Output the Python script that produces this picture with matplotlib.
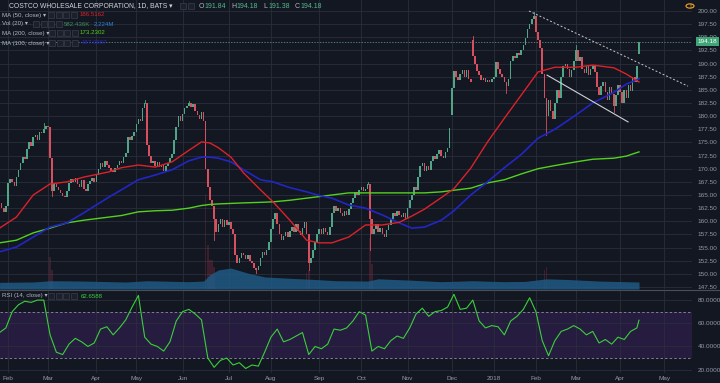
import numpy as np
import matplotlib
matplotlib.use("Agg")
import matplotlib.pyplot as plt
from matplotlib.patches import Rectangle, Circle

plt.rcParams['font.family'] = ['Liberation Sans', 'DejaVu Sans']

# ---------------- data ----------------
# daily closes, bar 0 = 26 Jan 2017 ... bar 304 = mid Apr 2018
closes = [
    163.5, 162.5, 161.8, 163.0,
    # Feb
    167.2, 168.0, 167.5, 166.8, 168.5, 169.8, 171.0, 172.2, 171.8, 173.8,
    175.0, 174.3, 176.0, 176.5, 175.5, 177.0, 176.8, 177.5, 178.2,
    # Mar
    178.0, 172.0, 165.8, 167.0, 166.5, 166.0, 165.3, 164.8, 164.6, 165.8,
    167.2, 168.0, 167.5, 168.3, 167.0, 166.5, 167.8, 166.2, 165.8, 167.0,
    167.6, 168.2, 167.5,
    # Apr
    168.8, 170.0, 171.0, 170.4, 171.5, 170.8, 170.2, 169.5, 169.3, 170.2,
    170.8, 171.5, 171.0, 172.3, 173.0, 176.0, 175.5, 176.3, 177.0,
    # May
    178.5, 179.5, 179.0, 181.5, 182.5, 174.5, 172.5, 171.0, 171.5, 170.5,
    171.2, 170.3, 170.8, 169.6, 170.5, 171.0, 172.0, 172.8, 175.5, 178.0,
    180.0, 179.0,
    # Jun
    180.5, 181.5, 182.0, 182.5, 181.8, 182.3, 181.0, 180.2, 179.5, 180.8,
    179.0, 170.0, 166.5, 164.0, 163.0, 160.5, 158.0, 159.5, 160.5, 159.0,
    160.2, 159.2,
    # Jul
    159.8, 158.5, 157.5, 153.5, 152.0, 153.0, 154.0, 153.5, 152.8, 153.6,
    152.5, 152.0, 151.2, 150.8, 151.5, 153.0, 154.2, 153.5, 154.5, 156.0,
    # Aug
    158.5, 160.5, 161.5, 159.5, 157.5, 156.5, 157.2, 158.0, 157.0, 158.2,
    159.0, 158.0, 159.5, 158.2, 157.3, 158.8, 159.8, 157.5, 152.0, 153.0,
    154.5, 156.0, 157.5,
    # Sep
    158.5, 157.5, 158.8, 158.0, 157.3, 159.0, 161.5, 163.0, 162.0, 162.5,
    161.5, 161.0, 162.0, 161.2, 162.3, 163.5, 164.5, 165.5, 165.0, 166.0,
    # Oct
    166.5, 165.8, 166.2, 167.0, 160.5, 157.5, 158.5, 159.5, 158.0, 158.8,
    157.5, 157.0, 158.3, 159.2, 160.5, 161.5, 161.0, 162.0, 161.2, 160.8,
    161.5, 160.5,
    # Nov
    162.5, 164.0, 165.0, 166.5, 166.0, 168.5, 170.5, 171.0, 169.5, 170.5,
    169.8, 171.5, 172.5, 171.8, 172.8, 173.5, 172.5, 172.0, 173.2, 174.0,
    177.7,
    # Dec
    185.4, 188.5, 187.5, 186.8, 188.0, 188.7, 187.5, 188.8, 187.0, 186.5,
    191.5, 190.0, 188.5, 187.8, 186.8, 187.3, 186.5, 186.9, 186.4, 187.0,
    # Jan 2018
    187.5, 190.3, 189.0, 188.0, 187.5, 186.5, 185.8, 187.0, 190.5, 191.5,
    191.0, 192.0, 191.6, 192.5, 193.5, 194.8, 196.5, 197.5, 198.5, 199.0,
    # Feb
    196.0, 194.5, 193.0, 188.0, 183.5, 180.0, 183.0, 181.0, 179.5, 182.5,
    185.0, 183.5, 187.5, 189.5, 190.0, 189.0, 187.5, 188.8, 190.5,
    # Mar
    192.5, 190.5, 191.2, 189.0, 188.2, 189.5, 187.8, 189.0, 189.6, 188.3,
    185.5, 184.0, 185.8, 186.5, 184.5, 183.0, 185.5, 184.2, 182.0, 184.0,
    186.0,
    # Apr
    184.5, 182.5, 185.0, 183.5, 186.0, 184.8, 187.5, 186.5, 189.5, 194.18,
]
first_open = 164.0
gap_opens = {214: 174.0, 215: 180.2, 225: 194.5, 304: 191.84}
wick_hi = {21: 178.6, 69: 183.0, 90: 182.8, 175: 167.4, 225: 195.3, 254: 199.9, 274: 193.6}
wick_lo = {25: 164.8, 102: 156.5, 122: 150.2, 147: 150.8, 176: 154.5, 241: 184.4,
           260: 176.4, 292: 180.8}

month_idx = [4, 23, 46, 65, 87, 109, 129, 152, 172, 194, 215, 235, 255, 274, 295, 316]
month_lbl = ['Feb', 'Mar', 'Apr', 'May', 'Jun', 'Jul', 'Aug', 'Sep', 'Oct', 'Nov',
             'Dec', '2018', 'Feb', 'Mar', 'Apr', 'May']

ma_idx = [0, 8, 16, 24, 32, 40, 52, 58, 66, 74, 82, 90, 96, 100, 104, 110, 116,
          124, 130, 138, 146, 152, 158, 166, 174, 182, 190, 196, 202, 210, 216,
          224, 232, 240, 248, 256, 264, 274, 282, 292, 298, 304]
ma50 = [158.7, 160.8, 165.0, 167.1, 167.5, 168.4, 169.4, 170.2, 170.7, 170.3,
        171.3, 173.5, 175.1, 174.9, 174.0, 172.2, 169.2, 166.0, 163.7, 160.2,
        156.4, 155.9, 155.9, 157.0, 159.3, 159.3, 159.8, 161.0, 162.3, 164.5,
        166.2, 170.1, 175.1, 179.6, 184.0, 188.4, 189.3, 189.3, 189.7, 189.2,
        188.0, 186.5]
ma100 = [154.2, 155.1, 157.0, 158.9, 159.7, 161.6, 164.6, 166.0, 167.9, 168.8,
         169.8, 171.5, 172.2, 172.2, 172.0, 171.3, 169.8, 167.9, 167.5, 166.4,
         165.6, 164.9, 164.4, 163.1, 162.5, 161.2, 159.7, 158.7, 158.9, 160.2,
         162.0, 165.0, 167.5, 170.2, 172.7, 175.8, 177.5, 180.2, 182.5, 184.5,
         186.1, 187.1]
ma200 = [155.9, 156.4, 157.8, 158.7, 159.7, 160.2, 160.8, 161.1, 161.8, 162.0,
         162.1, 162.5, 163.0, 163.2, 163.3, 163.4, 163.5, 163.6, 163.7, 164.0,
         164.4, 164.7, 165.0, 165.4, 165.4, 165.4, 165.4, 165.4, 165.4, 165.6,
         165.9, 166.3, 167.3, 167.9, 169.0, 170.0, 170.6, 171.3, 171.8, 172.0,
         172.4, 173.2]

# volume MA(20) in millions
vol_idx = [0, 16, 24, 40, 60, 70, 90, 97, 100, 104, 110, 118, 126, 140, 150, 160,
           175, 180, 195, 210, 225, 240, 250, 260, 270, 285, 304]
vol_ma = [2.1, 2.2, 2.6, 2.5, 2.2, 2.6, 2.3, 2.5, 4.5, 6.0, 6.6, 5.0, 3.8, 3.3,
          3.0, 2.6, 2.5, 3.2, 2.8, 2.3, 2.6, 2.3, 2.4, 3.2, 3.0, 2.5, 2.2]
vol_spike_idx = [24, 25, 98, 99, 100, 101, 102, 146, 147, 176, 177, 259, 260]
vol_spike = [10.0, 6.0, 30.0, 14.0, 9.0, 9.0, 7.0, 5.0, 6.0, 16.0, 8.0, 6.0, 7.0]

# RSI(14), one reading every 3 bars, last one at bar 304
rsi = [52, 56, 70, 76, 79, 78, 80, 80, 50, 35, 33, 42, 47, 44, 40, 43, 55, 57,
       50, 56, 63, 74, 84, 48, 42, 40, 36, 44, 62, 70, 72, 68, 63, 30, 22, 28,
       30, 24, 26, 21, 24, 23, 35, 48, 55, 44, 46, 49, 52, 33, 40, 38, 42, 55,
       54, 56, 62, 70, 67, 36, 40, 38, 45, 49, 47, 56, 68, 73, 66, 70, 71, 74,
       85, 72, 73, 80, 62, 56, 58, 57, 50, 62, 66, 72, 82, 70, 45, 32, 45, 53,
       55, 58, 55, 50, 53, 43, 46, 42, 48, 46, 53, 56, 62.66]
rsi_idx = [3 * k for k in range(len(rsi) - 1)] + [304]

# ---------------- style ----------------
BG = '#131722'
GRID = '#2a2e3a'
TXT = '#9598a1'
UP = '#4fa585'
DN = '#d8505d'
VOL_TOP = 91.0

fig = plt.figure(figsize=(7.2, 3.83), dpi=100, facecolor=BG)
ax = fig.add_axes([0, (383 - 289) / 383, 692 / 720, 289 / 383])
ar = fig.add_axes([0, (383 - 373) / 383, 692 / 720, (373 - 290) / 383])

for a in (ax, ar):
    a.set_facecolor(BG)
    a.set_xlim(0.2, 329.2)
    for s in a.spines.values():
        s.set_visible(False)
    a.yaxis.tick_right()
    a.tick_params(axis='both', length=0, labelsize=4.6, colors=TXT, pad=4)
    a.set_xticks(month_idx)
    a.grid(True, color=GRID, lw=0.6)
    a.set_axisbelow(True)

# price pane
ax.set_ylim(147.12, 202.09)
ax.set_yticks(np.arange(147.5, 200.1, 2.5))
ax.set_yticklabels(['%.2f' % v for v in np.arange(147.5, 200.1, 2.5)])
ax.set_xticklabels([])

x = np.arange(len(closes))
c = np.array(closes)
o = np.concatenate([[first_open], c[:-1]])
for k, v in gap_opens.items():
    o[k] = v
col = [UP if cc >= oo else DN for oo, cc in zip(o, c)]
bot = np.minimum(o, c)
hgt = np.maximum(np.abs(c - o), 0.2)

# volume
ax.bar(vol_spike_idx, np.array(vol_spike) / VOL_TOP, width=0.7, bottom=0,
       color='#8a3040', alpha=0.35, transform=ax.get_xaxis_transform(), zorder=1)
ax.fill_between(vol_idx, 0, np.array(vol_ma) / VOL_TOP, color='#1f5a85',
                alpha=0.85, lw=0, transform=ax.get_xaxis_transform(), zorder=1)

for k in wick_hi:
    ax.plot([k, k], [max(o[k], c[k]), wick_hi[k]], color=col[k], lw=0.6, zorder=3)
for k in wick_lo:
    ax.plot([k, k], [wick_lo[k], min(o[k], c[k])], color=col[k], lw=0.6, zorder=3)
ax.bar(x, hgt, bottom=bot, width=0.75, color=col, lw=0, zorder=3)

ax.plot(ma_idx, ma200, color='#52d21e', lw=1.0, zorder=4)
ax.plot(ma_idx, ma100, color='#2226c4', lw=1.2, zorder=4)
ax.plot(ma_idx, ma50, color='#dc2229', lw=1.0, zorder=4)

# trend lines
ax.plot([251.7, 327.3], [200.0, 185.7], color='#c8c8cc', lw=0.7, ls=(0, (2, 2)), zorder=5)
ax.plot([260.3, 298.8], [187.8, 178.9], color='#d0d0d4', lw=0.8, zorder=5)

# last price line + tag
ax.axhline(194.18, color='#6f9e8f', lw=0.5, ls=(0, (2, 2)), zorder=2)
ax.text(1.008, 194.18, '194.18', transform=ax.get_yaxis_transform(), fontsize=4.6,
        color='white', va='center', ha='left',
        bbox=dict(boxstyle='square,pad=0.25', fc='#3fa577', ec='none'), clip_on=False)

# RSI pane
ar.set_ylim(17.1, 88.7)
ar.set_yticks([20, 40, 60, 80])
ar.set_yticklabels(['20.0000', '40.0000', '60.0000', '80.0000'])
ar.set_xticklabels(month_lbl)
ar.tick_params(axis='x', pad=2)
ar.axhspan(30, 70, color='#251c3f', lw=0, zorder=0)
ar.axhline(70, color='#8c8fa0', lw=0.6, ls=(0, (3, 2.5)))
ar.axhline(30, color='#8c8fa0', lw=0.6, ls=(0, (3, 2.5)))
ar.plot(rsi_idx, rsi, color='#3bcf3b', lw=0.8)

# pane separator
fig.add_artist(plt.Line2D([0, 1], [(383 - 289.5) / 383] * 2, color='#4a4e5a', lw=0.8))


def px(xp, yp):
    return xp / 720, 1 - yp / 383


def boxes(x0, y0, n):
    for k in range(n):
        bx, by = px(x0 + k * 7.5, y0 + 3)
        fig.add_artist(Rectangle((bx, by), 6 / 720, 6 / 383, transform=fig.transFigure,
                                 fc='#1c202b', ec='#3a3e4a', lw=0.5))


fs = 4.4
fig.text(*px(9, 6), 'COSTCO WHOLESALE CORPORATION, 1D, BATS \u25be', fontsize=4.9,
         color='#d1d4dc', va='center')
boxes(180, 6, 2)
xo = 199
for lab, val in [('O', '191.84'), ('H', '194.18'), ('L', '191.38'), ('C', '194.18')]:
    fig.text(*px(xo, 6), lab, fontsize=5.0, color='#b2b5be', va='center')
    fig.text(*px(xo + 5.5, 6), val, fontsize=5.0, color='#53b987', va='center')
    xo += 32

legend_rows = [
    (15, 'MA (50, close) \u25be', 48, [('186.5162', '#dc2229', 80)]),
    (24, 'Vol (20) \u25be', 33, [('582.436K', '#3e8c5a', 64), ('2.224M', '#2a7fd0', 94)]),
    (33, 'MA (200, close) \u25be', 49, [('173.2302', '#52d21e', 80)]),
    (43, 'MA (100, close) \u25be', 49, [('187.0987', '#2226c4', 82)]),
    (296, 'RSI (14, close) \u25be', 48, [('62.6588', '#3bcf3b', 81)]),
]
for yy, name, bx0, vals in legend_rows:
    fig.text(*px(2, yy), name, fontsize=fs, color='#b2b5be', va='center')
    boxes(bx0, yy, 4)
    for t, cc, xv in vals:
        fig.text(*px(xv, yy), t, fontsize=fs, color=cc, va='center')

# warning icon
cx, cy = px(690, 6)
fig.add_artist(Circle((cx, cy), 4 / 720, transform=fig.transFigure, fc='none',
                      ec='#f5a623', lw=0.8))
fig.text(cx, cy, '!', fontsize=4.5, color='#f5a623', ha='center', va='center',
         fontweight='bold')

fig.savefig('out.png', dpi=100, facecolor=BG)
